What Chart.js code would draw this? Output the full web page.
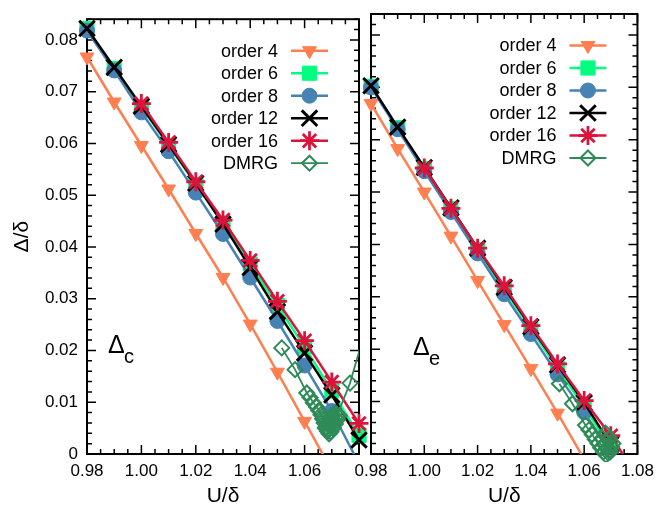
<!DOCTYPE html>
<html>
<head>
<meta charset="utf-8">
<script src="https://cdn.jsdelivr.net/npm/chart.js@4.4.1/dist/chart.umd.min.js"></script>
<style>
  html, body { margin: 0; padding: 0; background: #fff; }
  #wrap { position: relative; width: 661px; height: 509px; }
  canvas { position: absolute; left: 0; top: 0; }
</style>
</head>
<body>
<div id="wrap">
  <canvas id="left" width="661" height="509"></canvas>
  <canvas id="right" width="661" height="509"></canvas>
</div>
<script>
// U/delta grid used by the series expansions
const U = [0.98, 0.99, 1.00, 1.01, 1.02, 1.03, 1.04, 1.05, 1.06, 1.07, 1.08];

// left panel: charge gap Delta_c
const gapC4  = [0.0767, 0.0680, 0.0596, 0.0512, 0.0426, 0.0341, 0.0251, 0.0158, 0.0063, -0.0032, null];
const gapC6  = [0.0822, 0.0745, 0.0670, 0.0596, 0.0521, 0.0446, 0.0367, 0.0287, 0.0207, 0.0122, 0.0036];
const gapC8  = [0.0818, 0.0741, 0.0660, 0.0585, 0.0505, 0.0425, 0.0341, 0.0257, 0.0171, 0.0083, -0.0019];
const gapC12 = [0.0822, 0.0747, 0.0672, 0.0598, 0.0523, 0.0444, 0.0360, 0.0275, 0.0195, 0.0114, 0.0027];
const gapC16 = [null, null, 0.0677, 0.0602, 0.0526, 0.0452, 0.0374, 0.0295, 0.0219, 0.0139, 0.0059];
const dmrgCU = [1.0516, 1.0565, 1.0608, 1.0620, 1.0632, 1.0644, 1.0652, 1.0660, 1.0666, 1.0672, 1.0678, 1.0684,
                1.0690, 1.0697, 1.0705, 1.0713, 1.0721, 1.0728, 1.0712, 1.0700, 1.0688, 1.0705, 1.0694,
                1.0682, 1.0676, 1.0685, 1.0695, 1.0708, 1.0720, 1.0767, 1.0840];
const dmrgC  = [0.0205, 0.0163, 0.0118, 0.0109, 0.0099, 0.0091, 0.0084, 0.0076, 0.0068, 0.0060, 0.0052, 0.0044,
                0.0039, 0.0043, 0.0050, 0.0058, 0.0066, 0.0074, 0.0080, 0.0070, 0.0062, 0.0075, 0.0066,
                0.0058, 0.0050, 0.0048, 0.0055, 0.0064, 0.0075, 0.0137, 0.0270];

// right panel: Delta_e
const gapE4  = [0.0669, 0.0583, 0.0500, 0.0416, 0.0331, 0.0247, 0.0163, 0.0078, -0.0010, null, null];
const gapE6  = [0.0702, 0.0623, 0.0545, 0.0468, 0.0390, 0.0314, 0.0239, 0.0163, 0.0090, 0.0012, -0.0060];
const gapE8  = [0.0700, 0.0620, 0.0540, 0.0462, 0.0383, 0.0305, 0.0229, 0.0152, 0.0080, 0.0002, -0.0070];
const gapE12 = [0.0703, 0.0624, 0.0547, 0.0470, 0.0393, 0.0318, 0.0243, 0.0170, 0.0098, 0.0018, -0.0058];
const gapE16 = [null, null, 0.0546, 0.0469, 0.0393, 0.0321, 0.0245, 0.0172, 0.0102, 0.0035, -0.0043];
const dmrgEU = [1.0507, 1.0556, 1.0605, 1.0618, 1.0630, 1.0641, 1.0652, 1.0662, 1.0672, 1.0682,
                1.0690, 1.0697, 1.0703, 1.0708, 1.0695, 1.0680, 1.0668, 1.0675, 1.0686, 1.0698];
const dmrgE  = [0.0134, 0.0096, 0.0055, 0.0046, 0.0037, 0.0028, 0.0020, 0.0012, 0.0004, -0.0002,
                0.0002, 0.0008, 0.0014, 0.0020, 0.0030, 0.0040, 0.0030, 0.0018, 0.0010, 0.0004];

const xTicks = [0.98, 1.00, 1.02, 1.04, 1.06, 1.08];
const xTickLabels = ['0.98', '1.00', '1.02', '1.04', '1.06', '1.08'];
const yTicks = [0, 0.01, 0.02, 0.03, 0.04, 0.05, 0.06, 0.07, 0.08];
const yTickLabels = ['0', '0.01', '0.02', '0.03', '0.04', '0.05', '0.06', '0.07', '0.08'];

Chart.defaults.font.family = '"Liberation Sans", Arial, Helvetica, sans-serif';
Chart.defaults.color = '#000';

const styles = [
    {label: 'order 4',  color: '#ff7f50', point: 'triangle', rot: 180, r: 8,   bw: 1,   lw: 2.5},
    {label: 'order 6',  color: '#00ff7f', point: 'rect',     rot: 0,   r: 10,  bw: 1,   lw: 2.5},
    {label: 'order 8',  color: '#4682b4', point: 'circle',   rot: 0,   r: 7.5, bw: 1,   lw: 2.5},
    {label: 'order 12', color: '#000000', point: 'crossRot', rot: 0,   r: 11,  bw: 3,   lw: 2.5},
    {label: 'order 16', color: '#dc143c', point: 'star',     rot: 0,   r: 9.5, bw: 2.8, lw: 2.5},
    {label: 'DMRG',     color: '#2e8b57', point: 'rectRot',  rot: 0,   r: 7.5, bw: 2,   lw: 1.8},
];

function makeSet(st, xs, ys, idx, clip) {
    const pts = [];
    xs.forEach((x, i) => { if (ys[i] !== null) pts.push({x: x, y: ys[i]}); });
    const open = st.point === 'rectRot';
    return {
        label: st.label,
        data: pts,
        borderColor: st.color,
        backgroundColor: open ? 'rgba(0,0,0,0)' : st.color,
        pointBackgroundColor: open ? 'rgba(0,0,0,0)' : st.color,
        pointBorderColor: st.color,
        borderWidth: st.lw,
        pointBorderWidth: st.bw,
        pointStyle: st.point,
        pointRotation: st.rot,
        pointRadius: c => (c.raw && c.raw.y < -0.0003) ? 0 : st.r,
        pointHoverRadius: st.r,
        tension: 0,
        fill: false,
        order: 6 - idx,
        clip: clip,
    };
}

const framePlugin = {
    id: 'frame',
    beforeDatasetsDraw(chart) {
        const {ctx, chartArea: a, scales: {x, y}} = chart;
        const xStep = (xTicks[1] - xTicks[0]) / 4;
        const yStep = (yTicks[1] - yTicks[0]) / 5;
        ctx.save();
        ctx.strokeStyle = '#000';
        ctx.lineWidth = 1.5;
        ctx.beginPath();
        for (let i = 0; i <= 20; i++) {
            const px = x.getPixelForValue(xTicks[0] + i * xStep);
            const len = i % 4 === 0 ? 9 : 5;
            ctx.moveTo(px, a.bottom); ctx.lineTo(px, a.bottom - len);
            ctx.moveTo(px, a.top); ctx.lineTo(px, a.top + len);
        }
        for (let i = 0; i <= 42; i++) {
            const py = y.getPixelForValue(i * yStep);
            const len = i % 5 === 0 ? 9 : 5;
            ctx.moveTo(a.left, py); ctx.lineTo(a.left + len, py);
            ctx.moveTo(a.right, py); ctx.lineTo(a.right - len, py);
        }
        ctx.stroke();
        ctx.lineWidth = 2;
        ctx.strokeRect(a.left, a.top, a.width, a.height);
        ctx.restore();
    },
    afterDatasetsDraw(chart, args, opts) {
        const {ctx, chartArea: a} = chart;
        ctx.save();
        // legend: text right aligned, then line sample with marker
        const sx1 = a.right - 68, sx2 = a.right - 31;
        ctx.font = '18px "Liberation Sans", Arial, sans-serif';
        ctx.textAlign = 'right';
        ctx.textBaseline = 'middle';
        chart.data.datasets.slice().sort((p, q) => q.order - p.order).forEach((ds, i) => {
            const yy = a.top + 31.5 + i * 22.5;
            ctx.fillStyle = '#000';
            ctx.fillText(ds.label, sx1 - 13, yy + 1);
            ctx.strokeStyle = ds.borderColor;
            ctx.lineWidth = ds.borderWidth;
            ctx.beginPath();
            ctx.moveTo(sx1, yy); ctx.lineTo(sx2, yy);
            ctx.stroke();
            ctx.fillStyle = ds.pointBackgroundColor;
            ctx.lineWidth = ds.pointBorderWidth;
            Chart.helpers.drawPoint(ctx, {
                pointStyle: ds.pointStyle, rotation: ds.pointRotation,
                radius: ds.pointHoverRadius, borderWidth: ds.pointBorderWidth
            }, (sx1 + sx2) / 2, yy);
        });
        // panel label
        ctx.textAlign = 'left';
        ctx.textBaseline = 'alphabetic';
        ctx.fillStyle = '#000';
        ctx.font = '25px "Liberation Sans", Arial, sans-serif';
        ctx.fillText('Δ', opts.x, opts.y);
        ctx.font = '20px "Liberation Sans", Arial, sans-serif';
        ctx.fillText(opts.sub, opts.x + 16, opts.y + 10);
        ctx.restore();
    }
};

function makeChart(id, sets, isLeft, label) {
    new Chart(document.getElementById(id), {
        type: 'line',
        data: {datasets: sets},
        options: {
            responsive: false,
            animation: false,
            events: [],
            layout: {padding: {top: 12, bottom: 0, left: 0, right: isLeft ? 302 : 18}},
            plugins: {legend: {display: false}, tooltip: {enabled: false}, frame: label},
            scales: {
                x: {
                    type: 'linear', min: 0.98, max: 1.08,
                    grid: {display: false, drawTicks: false},
                    border: {display: false},
                    afterBuildTicks: s => { s.ticks = xTicks.map(v => ({value: v})); },
                    afterFit: s => { s.height = 55; },
                    ticks: {
                        autoSkip: false, maxRotation: 0, padding: 7,
                        font: {size: 17},
                        callback: (v, i) => (isLeft && i === xTicks.length - 1) ? '' : xTickLabels[i]
                    },
                    title: {display: true, text: 'U/δ', font: {size: 21}, padding: {top: 0, bottom: 0}}
                },
                y: {
                    type: 'linear', min: 0, max: 0.084,
                    grid: {display: false, drawTicks: false},
                    border: {display: false},
                    afterBuildTicks: s => { s.ticks = yTicks.map(v => ({value: v})); },
                    afterFit: s => { s.width = isLeft ? 87 : 371; },
                    ticks: {
                        display: isLeft, autoSkip: false, padding: 9,
                        font: {size: 17},
                        callback: (v, i) => yTickLabels[i]
                    },
                    title: {display: isLeft, text: 'Δ/δ', font: {size: 21}, padding: {top: 10, bottom: 0}}
                }
            }
        },
        plugins: [framePlugin]
    });
}

const clipC = {left: 12, right: 12, top: 12, bottom: 0};
const clipE = {left: 12, right: 12, top: 12, bottom: 0};

makeChart('left', [
    makeSet(styles[0], U, gapC4, 0, clipC),
    makeSet(styles[1], U, gapC6, 1, clipC),
    makeSet(styles[2], U, gapC8, 2, clipC),
    makeSet(styles[3], U, gapC12, 3, clipC),
    makeSet(styles[4], U, gapC16, 4, clipC),
    makeSet(styles[5], dmrgCU, dmrgC, 5, {left: 12, right: 0, top: 12, bottom: 0}),
], true, {x: 108, y: 353, sub: 'c'});

makeChart('right', [
    makeSet(styles[0], U, gapE4, 0, clipE),
    makeSet(styles[1], U, gapE6, 1, clipE),
    makeSet(styles[2], U, gapE8, 2, clipE),
    makeSet(styles[3], U, gapE12, 3, clipE),
    makeSet(styles[4], U, gapE16, 4, clipE),
    makeSet(styles[5], dmrgEU, dmrgE, 5, {left: 12, right: 12, top: 12, bottom: 8}),
], false, {x: 413, y: 355, sub: 'e'});
</script>
</body>
</html>
